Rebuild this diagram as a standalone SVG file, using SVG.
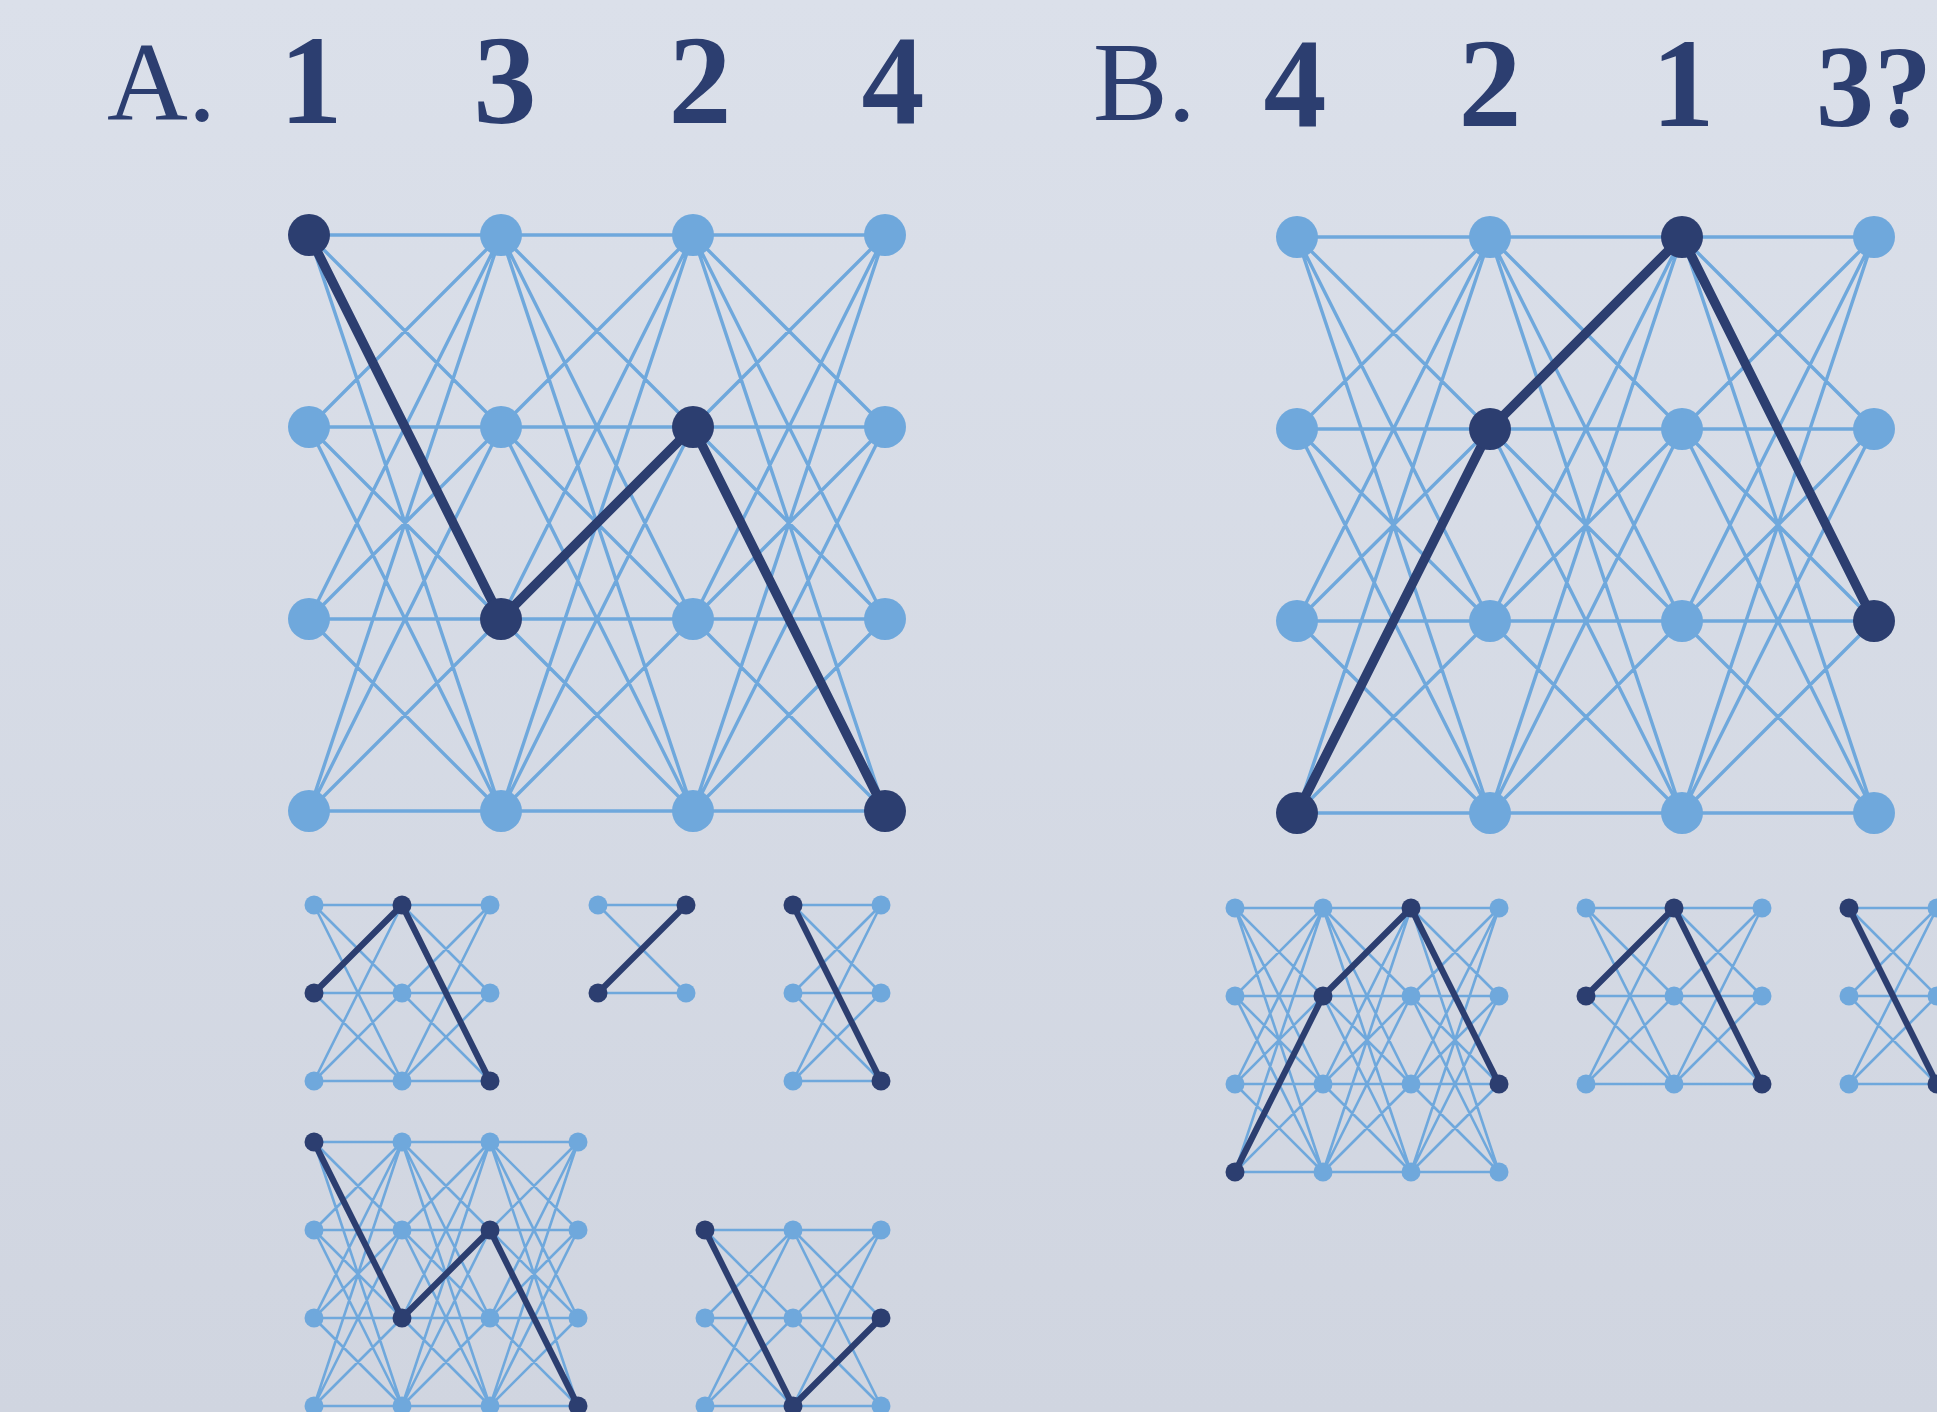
<svg xmlns="http://www.w3.org/2000/svg" width="1937" height="1412" viewBox="0 0 1937 1412">
<defs>
<linearGradient id="bg" x1="0" y1="0" x2="0" y2="1">
<stop offset="0" stop-color="#dbe0ea"/>
<stop offset="1" stop-color="#d0d5e0"/>
</linearGradient>
<style>
.t{font-family:"Liberation Serif","DejaVu Serif",serif;fill:#2c3e70}
.lt{font-size:112px}
.num{font-size:126px;font-weight:bold}
.le{fill:none;stroke:#6fa8dc;stroke-linecap:round}
.de{fill:none;stroke:#2c3e70;stroke-linecap:round;stroke-linejoin:round}
.big{stroke-width:3.4}
.sm{stroke-width:2.6}
.bigd{stroke-width:9.5}
.smd{stroke-width:6.2}
.nl{fill:#6fa8dc}
.nd{fill:#2c3e70}
</style>
</defs>
<rect width="1937" height="1412" fill="url(#bg)"/>

<g id="titles">
<text class="t lt" x="107" y="120">A.</text>
<text class="t num" x="311" y="123" text-anchor="middle">1</text>
<text class="t num" x="505" y="123" text-anchor="middle">3</text>
<text class="t num" x="700" y="123" text-anchor="middle">2</text>
<text class="t num" x="893" y="123" text-anchor="middle">4</text>
<text class="t lt" x="1093" y="120">B.</text>
<text class="t num" x="1295" y="126" text-anchor="middle">4</text>
<text class="t num" x="1490" y="126" text-anchor="middle">2</text>
<text class="t num" x="1683" y="126" text-anchor="middle">1</text>
<text class="t num" x="1816" y="126" style="font-size:116px">3?</text>
</g>

<g id="connectors">
<path id="e-A-big" class="le big" d="M309 235L501 235M309 235L501 427M309 235L501 619M309 235L501 811M309 427L501 235M309 427L501 427M309 427L501 619M309 427L501 811M309 619L501 235M309 619L501 427M309 619L501 619M309 619L501 811M309 811L501 235M309 811L501 427M309 811L501 619M309 811L501 811
M501 235L693 235M501 235L693 427M501 235L693 619M501 235L693 811M501 427L693 235M501 427L693 427M501 427L693 619M501 427L693 811M501 619L693 235M501 619L693 427M501 619L693 619M501 619L693 811M501 811L693 235M501 811L693 427M501 811L693 619M501 811L693 811
M693 235L885 235M693 235L885 427M693 235L885 619M693 235L885 811M693 427L885 235M693 427L885 427M693 427L885 619M693 427L885 811M693 619L885 235M693 619L885 427M693 619L885 619M693 619L885 811M693 811L885 235M693 811L885 427M693 811L885 619M693 811L885 811"/>
<path id="e-B-big" class="le big" d="M1297 237L1490 237M1297 237L1490 429M1297 237L1490 621M1297 237L1490 813M1297 429L1490 237M1297 429L1490 429M1297 429L1490 621M1297 429L1490 813M1297 621L1490 237M1297 621L1490 429M1297 621L1490 621M1297 621L1490 813M1297 813L1490 237M1297 813L1490 429M1297 813L1490 621M1297 813L1490 813
M1490 237L1682 237M1490 237L1682 429M1490 237L1682 621M1490 237L1682 813M1490 429L1682 237M1490 429L1682 429M1490 429L1682 621M1490 429L1682 813M1490 621L1682 237M1490 621L1682 429M1490 621L1682 621M1490 621L1682 813M1490 813L1682 237M1490 813L1682 429M1490 813L1682 621M1490 813L1682 813
M1682 237L1874 237M1682 237L1874 429M1682 237L1874 621M1682 237L1874 813M1682 429L1874 237M1682 429L1874 429M1682 429L1874 621M1682 429L1874 813M1682 621L1874 237M1682 621L1874 429M1682 621L1874 621M1682 621L1874 813M1682 813L1874 237M1682 813L1874 429M1682 813L1874 621M1682 813L1874 813"/>
<path id="e-small" class="le sm" d="
M314 905L402 905M314 905L402 993M314 905L402 1081M314 993L402 905M314 993L402 993M314 993L402 1081M314 1081L402 905M314 1081L402 993M314 1081L402 1081
M402 905L490 905M402 905L490 993M402 905L490 1081M402 993L490 905M402 993L490 993M402 993L490 1081M402 1081L490 905M402 1081L490 993M402 1081L490 1081
M598 905L686 905M598 905L686 993M598 993L686 905M598 993L686 993
M793 905L881 905M793 905L881 993M793 905L881 1081M793 993L881 905M793 993L881 993M793 993L881 1081M793 1081L881 905M793 1081L881 993M793 1081L881 1081
M314 1142L402 1142M314 1142L402 1230M314 1142L402 1318M314 1142L402 1406M314 1230L402 1142M314 1230L402 1230M314 1230L402 1318M314 1230L402 1406M314 1318L402 1142M314 1318L402 1230M314 1318L402 1318M314 1318L402 1406M314 1406L402 1142M314 1406L402 1230M314 1406L402 1318M314 1406L402 1406
M402 1142L490 1142M402 1142L490 1230M402 1142L490 1318M402 1142L490 1406M402 1230L490 1142M402 1230L490 1230M402 1230L490 1318M402 1230L490 1406M402 1318L490 1142M402 1318L490 1230M402 1318L490 1318M402 1318L490 1406M402 1406L490 1142M402 1406L490 1230M402 1406L490 1318M402 1406L490 1406
M490 1142L578 1142M490 1142L578 1230M490 1142L578 1318M490 1142L578 1406M490 1230L578 1142M490 1230L578 1230M490 1230L578 1318M490 1230L578 1406M490 1318L578 1142M490 1318L578 1230M490 1318L578 1318M490 1318L578 1406M490 1406L578 1142M490 1406L578 1230M490 1406L578 1318M490 1406L578 1406
M705 1230L793 1230M705 1230L793 1318M705 1230L793 1406M705 1318L793 1230M705 1318L793 1318M705 1318L793 1406M705 1406L793 1230M705 1406L793 1318M705 1406L793 1406
M793 1230L881 1230M793 1230L881 1318M793 1230L881 1406M793 1318L881 1230M793 1318L881 1318M793 1318L881 1406M793 1406L881 1230M793 1406L881 1318M793 1406L881 1406
M1235 908L1323 908M1235 908L1323 996M1235 908L1323 1084M1235 908L1323 1172M1235 996L1323 908M1235 996L1323 996M1235 996L1323 1084M1235 996L1323 1172M1235 1084L1323 908M1235 1084L1323 996M1235 1084L1323 1084M1235 1084L1323 1172M1235 1172L1323 908M1235 1172L1323 996M1235 1172L1323 1084M1235 1172L1323 1172
M1323 908L1411 908M1323 908L1411 996M1323 908L1411 1084M1323 908L1411 1172M1323 996L1411 908M1323 996L1411 996M1323 996L1411 1084M1323 996L1411 1172M1323 1084L1411 908M1323 1084L1411 996M1323 1084L1411 1084M1323 1084L1411 1172M1323 1172L1411 908M1323 1172L1411 996M1323 1172L1411 1084M1323 1172L1411 1172
M1411 908L1499 908M1411 908L1499 996M1411 908L1499 1084M1411 908L1499 1172M1411 996L1499 908M1411 996L1499 996M1411 996L1499 1084M1411 996L1499 1172M1411 1084L1499 908M1411 1084L1499 996M1411 1084L1499 1084M1411 1084L1499 1172M1411 1172L1499 908M1411 1172L1499 996M1411 1172L1499 1084M1411 1172L1499 1172
M1586 908L1674 908M1586 908L1674 996M1586 908L1674 1084M1586 996L1674 908M1586 996L1674 996M1586 996L1674 1084M1586 1084L1674 908M1586 1084L1674 996M1586 1084L1674 1084
M1674 908L1762 908M1674 908L1762 996M1674 908L1762 1084M1674 996L1762 908M1674 996L1762 996M1674 996L1762 1084M1674 1084L1762 908M1674 1084L1762 996M1674 1084L1762 1084
M1849 908L1937 908M1849 908L1937 996M1849 908L1937 1084M1849 996L1937 908M1849 996L1937 996M1849 996L1937 1084M1849 1084L1937 908M1849 1084L1937 996M1849 1084L1937 1084"/>
<path id="p-A-big" class="de bigd" d="M309 235L501 619L693 427L885 811"/>
<path id="p-B-big" class="de bigd" d="M1297 813L1490 429L1682 237L1874 621"/>
<path id="p-A1" class="de smd" d="M314 993L402 905L490 1081"/>
<path id="p-A2" class="de smd" d="M598 993L686 905"/>
<path id="p-A3" class="de smd" d="M793 905L881 1081"/>
<path id="p-A4" class="de smd" d="M314 1142L402 1318L490 1230L578 1406"/>
<path id="p-A5" class="de smd" d="M705 1230L793 1406L881 1318"/>
<path id="p-B1" class="de smd" d="M1235 1172L1323 996L1411 908L1499 1084"/>
<path id="p-B2" class="de smd" d="M1586 996L1674 908L1762 1084"/>
<path id="p-B3" class="de smd" d="M1849 908L1937 1084"/>
</g>

<g id="nodes-A-big">
<g id="A-0-0"><circle class="nd" cx="309" cy="235" r="21"/></g>
<g id="A-0-1"><circle class="nl" cx="309" cy="427" r="21"/></g>
<g id="A-0-2"><circle class="nl" cx="309" cy="619" r="21"/></g>
<g id="A-0-3"><circle class="nl" cx="309" cy="811" r="21"/></g>
<g id="A-1-0"><circle class="nl" cx="501" cy="235" r="21"/></g>
<g id="A-1-1"><circle class="nl" cx="501" cy="427" r="21"/></g>
<g id="A-1-2"><circle class="nd" cx="501" cy="619" r="21"/></g>
<g id="A-1-3"><circle class="nl" cx="501" cy="811" r="21"/></g>
<g id="A-2-0"><circle class="nl" cx="693" cy="235" r="21"/></g>
<g id="A-2-1"><circle class="nd" cx="693" cy="427" r="21"/></g>
<g id="A-2-2"><circle class="nl" cx="693" cy="619" r="21"/></g>
<g id="A-2-3"><circle class="nl" cx="693" cy="811" r="21"/></g>
<g id="A-3-0"><circle class="nl" cx="885" cy="235" r="21"/></g>
<g id="A-3-1"><circle class="nl" cx="885" cy="427" r="21"/></g>
<g id="A-3-2"><circle class="nl" cx="885" cy="619" r="21"/></g>
<g id="A-3-3"><circle class="nd" cx="885" cy="811" r="21"/></g>
</g>

<g id="nodes-B-big">
<g id="B-0-0"><circle class="nl" cx="1297" cy="237" r="21"/></g>
<g id="B-0-1"><circle class="nl" cx="1297" cy="429" r="21"/></g>
<g id="B-0-2"><circle class="nl" cx="1297" cy="621" r="21"/></g>
<g id="B-0-3"><circle class="nd" cx="1297" cy="813" r="21"/></g>
<g id="B-1-0"><circle class="nl" cx="1490" cy="237" r="21"/></g>
<g id="B-1-1"><circle class="nd" cx="1490" cy="429" r="21"/></g>
<g id="B-1-2"><circle class="nl" cx="1490" cy="621" r="21"/></g>
<g id="B-1-3"><circle class="nl" cx="1490" cy="813" r="21"/></g>
<g id="B-2-0"><circle class="nd" cx="1682" cy="237" r="21"/></g>
<g id="B-2-1"><circle class="nl" cx="1682" cy="429" r="21"/></g>
<g id="B-2-2"><circle class="nl" cx="1682" cy="621" r="21"/></g>
<g id="B-2-3"><circle class="nl" cx="1682" cy="813" r="21"/></g>
<g id="B-3-0"><circle class="nl" cx="1874" cy="237" r="21"/></g>
<g id="B-3-1"><circle class="nl" cx="1874" cy="429" r="21"/></g>
<g id="B-3-2"><circle class="nd" cx="1874" cy="621" r="21"/></g>
<g id="B-3-3"><circle class="nl" cx="1874" cy="813" r="21"/></g>
</g>

<g id="nodes-A1">
<g id="A1-0-0"><circle class="nl" cx="314" cy="905" r="9.5"/></g>
<g id="A1-0-1"><circle class="nd" cx="314" cy="993" r="9.5"/></g>
<g id="A1-0-2"><circle class="nl" cx="314" cy="1081" r="9.5"/></g>
<g id="A1-1-0"><circle class="nd" cx="402" cy="905" r="9.5"/></g>
<g id="A1-1-1"><circle class="nl" cx="402" cy="993" r="9.5"/></g>
<g id="A1-1-2"><circle class="nl" cx="402" cy="1081" r="9.5"/></g>
<g id="A1-2-0"><circle class="nl" cx="490" cy="905" r="9.5"/></g>
<g id="A1-2-1"><circle class="nl" cx="490" cy="993" r="9.5"/></g>
<g id="A1-2-2"><circle class="nd" cx="490" cy="1081" r="9.5"/></g>
</g>

<g id="nodes-A2">
<g id="A2-0-0"><circle class="nl" cx="598" cy="905" r="9.5"/></g>
<g id="A2-0-1"><circle class="nd" cx="598" cy="993" r="9.5"/></g>
<g id="A2-1-0"><circle class="nd" cx="686" cy="905" r="9.5"/></g>
<g id="A2-1-1"><circle class="nl" cx="686" cy="993" r="9.5"/></g>
</g>

<g id="nodes-A3">
<g id="A3-0-0"><circle class="nd" cx="793" cy="905" r="9.5"/></g>
<g id="A3-0-1"><circle class="nl" cx="793" cy="993" r="9.5"/></g>
<g id="A3-0-2"><circle class="nl" cx="793" cy="1081" r="9.5"/></g>
<g id="A3-1-0"><circle class="nl" cx="881" cy="905" r="9.5"/></g>
<g id="A3-1-1"><circle class="nl" cx="881" cy="993" r="9.5"/></g>
<g id="A3-1-2"><circle class="nd" cx="881" cy="1081" r="9.5"/></g>
</g>

<g id="nodes-A4">
<g id="A4-0-0"><circle class="nd" cx="314" cy="1142" r="9.5"/></g>
<g id="A4-0-1"><circle class="nl" cx="314" cy="1230" r="9.5"/></g>
<g id="A4-0-2"><circle class="nl" cx="314" cy="1318" r="9.5"/></g>
<g id="A4-0-3"><circle class="nl" cx="314" cy="1406" r="9.5"/></g>
<g id="A4-1-0"><circle class="nl" cx="402" cy="1142" r="9.5"/></g>
<g id="A4-1-1"><circle class="nl" cx="402" cy="1230" r="9.5"/></g>
<g id="A4-1-2"><circle class="nd" cx="402" cy="1318" r="9.5"/></g>
<g id="A4-1-3"><circle class="nl" cx="402" cy="1406" r="9.5"/></g>
<g id="A4-2-0"><circle class="nl" cx="490" cy="1142" r="9.5"/></g>
<g id="A4-2-1"><circle class="nd" cx="490" cy="1230" r="9.5"/></g>
<g id="A4-2-2"><circle class="nl" cx="490" cy="1318" r="9.5"/></g>
<g id="A4-2-3"><circle class="nl" cx="490" cy="1406" r="9.5"/></g>
<g id="A4-3-0"><circle class="nl" cx="578" cy="1142" r="9.5"/></g>
<g id="A4-3-1"><circle class="nl" cx="578" cy="1230" r="9.5"/></g>
<g id="A4-3-2"><circle class="nl" cx="578" cy="1318" r="9.5"/></g>
<g id="A4-3-3"><circle class="nd" cx="578" cy="1406" r="9.5"/></g>
</g>

<g id="nodes-A5">
<g id="A5-0-0"><circle class="nd" cx="705" cy="1230" r="9.5"/></g>
<g id="A5-0-1"><circle class="nl" cx="705" cy="1318" r="9.5"/></g>
<g id="A5-0-2"><circle class="nl" cx="705" cy="1406" r="9.5"/></g>
<g id="A5-1-0"><circle class="nl" cx="793" cy="1230" r="9.5"/></g>
<g id="A5-1-1"><circle class="nl" cx="793" cy="1318" r="9.5"/></g>
<g id="A5-1-2"><circle class="nd" cx="793" cy="1406" r="9.5"/></g>
<g id="A5-2-0"><circle class="nl" cx="881" cy="1230" r="9.5"/></g>
<g id="A5-2-1"><circle class="nd" cx="881" cy="1318" r="9.5"/></g>
<g id="A5-2-2"><circle class="nl" cx="881" cy="1406" r="9.5"/></g>
</g>

<g id="nodes-B1">
<g id="B1-0-0"><circle class="nl" cx="1235" cy="908" r="9.5"/></g>
<g id="B1-0-1"><circle class="nl" cx="1235" cy="996" r="9.5"/></g>
<g id="B1-0-2"><circle class="nl" cx="1235" cy="1084" r="9.5"/></g>
<g id="B1-0-3"><circle class="nd" cx="1235" cy="1172" r="9.5"/></g>
<g id="B1-1-0"><circle class="nl" cx="1323" cy="908" r="9.5"/></g>
<g id="B1-1-1"><circle class="nd" cx="1323" cy="996" r="9.5"/></g>
<g id="B1-1-2"><circle class="nl" cx="1323" cy="1084" r="9.5"/></g>
<g id="B1-1-3"><circle class="nl" cx="1323" cy="1172" r="9.5"/></g>
<g id="B1-2-0"><circle class="nd" cx="1411" cy="908" r="9.5"/></g>
<g id="B1-2-1"><circle class="nl" cx="1411" cy="996" r="9.5"/></g>
<g id="B1-2-2"><circle class="nl" cx="1411" cy="1084" r="9.5"/></g>
<g id="B1-2-3"><circle class="nl" cx="1411" cy="1172" r="9.5"/></g>
<g id="B1-3-0"><circle class="nl" cx="1499" cy="908" r="9.5"/></g>
<g id="B1-3-1"><circle class="nl" cx="1499" cy="996" r="9.5"/></g>
<g id="B1-3-2"><circle class="nd" cx="1499" cy="1084" r="9.5"/></g>
<g id="B1-3-3"><circle class="nl" cx="1499" cy="1172" r="9.5"/></g>
</g>

<g id="nodes-B2">
<g id="B2-0-0"><circle class="nl" cx="1586" cy="908" r="9.5"/></g>
<g id="B2-0-1"><circle class="nd" cx="1586" cy="996" r="9.5"/></g>
<g id="B2-0-2"><circle class="nl" cx="1586" cy="1084" r="9.5"/></g>
<g id="B2-1-0"><circle class="nd" cx="1674" cy="908" r="9.5"/></g>
<g id="B2-1-1"><circle class="nl" cx="1674" cy="996" r="9.5"/></g>
<g id="B2-1-2"><circle class="nl" cx="1674" cy="1084" r="9.5"/></g>
<g id="B2-2-0"><circle class="nl" cx="1762" cy="908" r="9.5"/></g>
<g id="B2-2-1"><circle class="nl" cx="1762" cy="996" r="9.5"/></g>
<g id="B2-2-2"><circle class="nd" cx="1762" cy="1084" r="9.5"/></g>
</g>

<g id="nodes-B3">
<g id="B3-0-0"><circle class="nd" cx="1849" cy="908" r="9.5"/></g>
<g id="B3-0-1"><circle class="nl" cx="1849" cy="996" r="9.5"/></g>
<g id="B3-0-2"><circle class="nl" cx="1849" cy="1084" r="9.5"/></g>
<g id="B3-1-0"><circle class="nl" cx="1937" cy="908" r="9.5"/></g>
<g id="B3-1-1"><circle class="nl" cx="1937" cy="996" r="9.5"/></g>
<g id="B3-1-2"><circle class="nd" cx="1937" cy="1084" r="9.5"/></g>
</g>
</svg>
